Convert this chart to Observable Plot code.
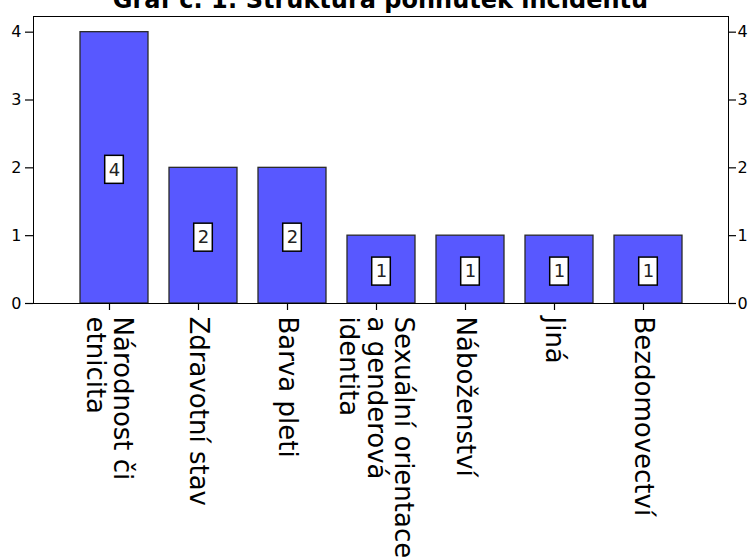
<!DOCTYPE html>
<html>
<head>
<meta charset="utf-8">
<script src="https://cdn.jsdelivr.net/npm/d3@7"></script>
<script src="https://cdn.jsdelivr.net/npm/@observablehq/plot@0.6"></script>
<style>
  html, body { margin: 0; padding: 0; background: white; overflow: hidden; }
  #wrap { position: relative; width: 749px; height: 559px; overflow: hidden; }
  #title { position: absolute; top: -12px; left: 33px; width: 695px; text-align: center;
    font-family: "DejaVu Sans", sans-serif; font-weight: bold; font-size: 24px; line-height: 24px;
    color: #000; white-space: nowrap; z-index: 2; }
  #chart { position: absolute; top: 0; left: 0; }
</style>
</head>
<body>
<div id="wrap">
  <div id="title">Graf č. 1: Struktura pohnutek incidentu</div>
  <div id="chart"></div>
</div>
<script>
const categories = ["Národnost či etnicita", "Zdravotní stav", "Barva pleti", "Sexuální orientace a genderová identita", "Náboženství", "Jiná", "Bezdomovectví"];
const counts = [4, 2, 2, 1, 1, 1, 1];
const tickLabels = ["Národnost či\netnicita", "Zdravotní stav", "Barva pleti", "Sexuální orientace\na genderová\nidentita", "Náboženství", "Jiná", "Bezdomovectví"];
const yTicks = [0, 1, 2, 3, 4];

const data = categories.map((c, i) => ({category: c, count: counts[i], label: String(counts[i])}));

const bandInset = 24.7;
const chart = Plot.plot({
  width: 749,
  height: 559,
  marginTop: 16,
  marginLeft: 33,
  marginRight: 21,
  marginBottom: 256,
  style: {fontFamily: "DejaVu Sans", background: "white", color: "black"},
  x: {domain: categories, paddingInner: 0.236, paddingOuter: 0.5, label: null, axis: null},
  y: {domain: [0, 4.231], label: null, axis: null},
  marks: [
    Plot.barY(data, {x: "category", y: "count", fill: "#5858ff", stroke: "#2a2a2a", strokeWidth: 1.3}),
    Plot.barY(data, {x: "category", y1: d => d.count / 2, y2: d => d.count / 2, fill: "white", stroke: "black", strokeWidth: 1.5,
      insetLeft: bandInset, insetRight: bandInset, insetTop: -12, insetBottom: -16}),
    Plot.text(data, {x: "category", y: d => d.count / 2, text: "label", fontSize: 18, dy: 2, fill: "#222"}),
    Plot.frame({stroke: "black", strokeWidth: 1}),
    Plot.axisY({anchor: "left", ticks: yTicks, tickSize: 8, tickPadding: 4, fontSize: 16, label: null, tickFormat: d => String(d), strokeWidth: 1.2}),
    Plot.axisY({anchor: "right", ticks: yTicks, tickSize: 7, tickPadding: 2, fontSize: 16, label: null, tickFormat: d => String(d), strokeWidth: 1.2}),
    Plot.axisX({anchor: "bottom", tickSize: 7, tickPadding: 6, tickRotate: 90, fontSize: 26, lineHeight: 1.05, dx: -5,
      label: null, tickFormat: d => tickLabels[categories.indexOf(d)], strokeWidth: 1.2})
  ]
});
document.getElementById("chart").appendChild(chart);
</script>
</body>
</html>
